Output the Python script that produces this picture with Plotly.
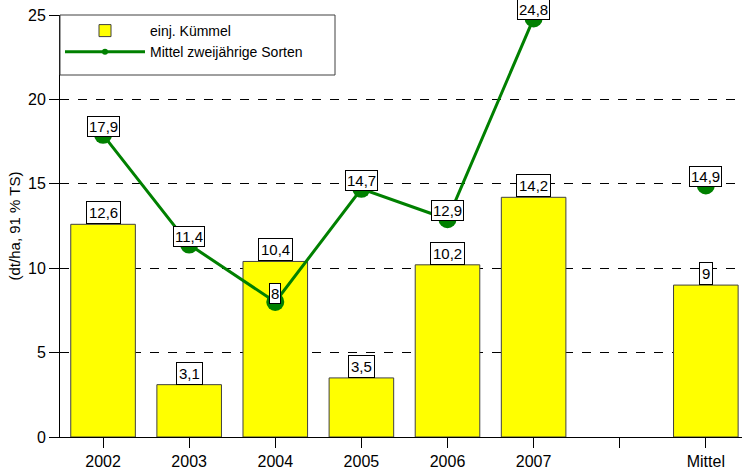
import plotly.graph_objects as go

categories = ["2002", "2003", "2004", "2005", "2006", "2007", " ", "Mittel"]
kuemmel = [12.6, 3.1, 10.4, 3.5, 10.2, 14.2, None, 9]
zweijaehrig = [17.9, 11.4, 8, 14.7, 12.9, 24.8, None, 14.9]
y_ticks = [0, 5, 10, 15, 20, 25]

FONT = "Liberation Sans, Arial, sans-serif"

def fmt(v):
    return f"{v:g}".replace(".", ",")

fig = go.Figure()
fig.add_trace(go.Bar(
    x=categories, y=kuemmel, name="einj. Kümmel",
    marker=dict(color="#FFFF00", line=dict(color="#404040", width=1)),
    width=0.75,
))
fig.add_trace(go.Scatter(
    x=categories, y=zweijaehrig, name="Mittel zweijährige Sorten",
    mode="lines+markers", connectgaps=False, cliponaxis=False,
    line=dict(color="#008000", width=3),
    marker=dict(color="#008000", size=18),
    showlegend=False,
))
# legend entry with a small marker, as in the reference legend
fig.add_trace(go.Scatter(
    x=[None], y=[None], name="Mittel zweijährige Sorten",
    mode="lines+markers",
    line=dict(color="#008000", width=3),
    marker=dict(color="#008000", size=6),
))

annotations = []
for i, v in enumerate(kuemmel):
    if v is None:
        continue
    annotations.append(dict(x=i, y=v, xref="x", yref="y", text=fmt(v),
                            showarrow=False, yanchor="bottom", yshift=0,
                            bgcolor="white", bordercolor="black", borderwidth=1,
                            borderpad=2, font=dict(family=FONT, size=15, color="black")))
for i, v in enumerate(zweijaehrig):
    if v is None:
        continue
    annotations.append(dict(x=i, y=v, xref="x", yref="y", text=fmt(v),
                            showarrow=False, yanchor="bottom", yshift=-2,
                            bgcolor="white", bordercolor="black", borderwidth=1,
                            borderpad=1, font=dict(family=FONT, size=15, color="black")))

fig.update_layout(
    width=742, height=471,
    margin=dict(l=60, r=0, t=15, b=34),
    paper_bgcolor="white", plot_bgcolor="white",
    font=dict(family=FONT, size=16, color="black"),
    bargap=0.25,
    showlegend=True,
    legend=dict(x=0.0, y=1.0, xanchor="left", yanchor="top",
                bgcolor="rgba(0,0,0,0)", borderwidth=0,
                itemwidth=80, font=dict(family=FONT, size=14, color="black"),
                tracegroupgap=0),
    annotations=annotations,
    shapes=[dict(type="rect", xref="paper", yref="paper",
                 x0=0, x1=275/682, y0=1, y1=1 - 60/422,
                 line=dict(color="#404040", width=1), fillcolor="white", layer="above")],
)
fig.update_xaxes(
    type="category", categoryorder="array", categoryarray=categories,
    range=[-0.5, 7.42],
    showline=True, linecolor="black", linewidth=1,
    ticks="outside", ticklen=10, tickcolor="black",
    showgrid=False, zeroline=False,
    tickfont=dict(family=FONT, size=16),
)
fig.update_yaxes(
    range=[0, 25], tickvals=y_ticks,
    showline=True, linecolor="black", linewidth=1,
    ticks="outside", ticklen=10, tickcolor="black",
    showgrid=True, gridcolor="black", gridwidth=1, griddash="dash",
    zeroline=False,
    tickfont=dict(family=FONT, size=16),
    title=dict(text="(dt/ha, 91 % TS)", font=dict(family=FONT, size=15), standoff=3),
)

fig.write_html("out.html", config={"displayModeBar": False},
               post_script="document.body.style.margin='0';document.body.style.overflow='hidden';")
